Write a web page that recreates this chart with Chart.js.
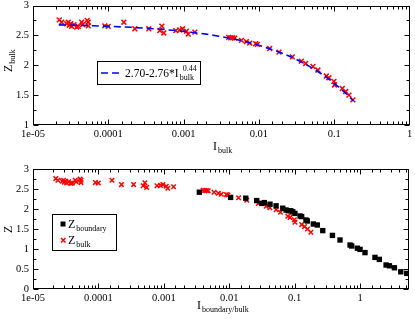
<!DOCTYPE html>
<html><head><meta charset="utf-8">
<script src="https://cdn.jsdelivr.net/npm/chart.js@4.4.0/dist/chart.umd.min.js"></script>
<style>html,body{margin:0;padding:0;background:#fff;} canvas{display:block;}</style>
</head><body>
<canvas id="c1" width="415" height="160"></canvas>
<canvas id="c2" width="415" height="160"></canvas>
<script>
// ---- data ----
const bulkI = [2.23e-5,2.40e-5,2.80e-5,2.94e-5,3.03e-5,3.16e-5,3.26e-5,3.50e-5,3.80e-5,3.99e-5,4.43e-5,4.56e-5,5.25e-5,5.41e-5,5.41e-5,9.0e-5,9.97e-5,1.61e-4,2.25e-4,3.45e-4,4.83e-4,5.14e-4,5.46e-4,7.88e-4,8.9e-4,9.67e-4,1.09e-3,1.15e-3,1.41e-3,3.98e-3,4.23e-3,4.49e-3,4.77e-3,5.86e-3,6.82e-3,7.55e-3,9.07e-3,9.55e-3,0.0139,0.0185,0.0278,0.0366,0.0418,0.0522,0.0608,0.0786,0.0851,0.0991,0.101,0.128,0.142,0.157,0.177];
const bulkZ = [2.76,2.72,2.695,2.72,2.67,2.695,2.65,2.68,2.64,2.65,2.72,2.68,2.75,2.72,2.66,2.66,2.65,2.72,2.61,2.61,2.58,2.655,2.54,2.58,2.59,2.61,2.57,2.52,2.555,2.467,2.46,2.46,2.455,2.417,2.395,2.37,2.36,2.35,2.28,2.22,2.14,2.07,2.03,1.98,1.92,1.82,1.79,1.73,1.67,1.61,1.56,1.50,1.42];
const fitI = [2.2e-5,5e-5,1e-4,2e-4,5e-4,1e-3,2e-3,4e-3,7e-3,0.01,0.02,0.03,0.04,0.05,0.07,0.085,0.1,0.115,0.13,0.15,0.165,0.18];
const fitZ = [2.675,2.665,2.652,2.635,2.603,2.568,2.521,2.457,2.389,2.336,2.206,2.110,2.030,1.961,1.844,1.767,1.698,1.635,1.575,1.502,1.451,1.402];
const boundaryI = [3.49e-3,1.05e-2,1.79e-2,2.63e-2,3.14e-2,3.44e-2,4.2e-2,5.2e-2,6.58e-2,0.0739,0.080,0.0871,0.0935,0.101,0.121,0.128,0.149,0.156,0.193,0.222,0.269,0.378,0.494,0.703,0.746,0.91,1.0,1.19,1.69,1.97,2.5,2.81,3.35,4.19,5.17];
const boundaryZ = [2.42,2.29,2.27,2.21,2.14,2.16,2.12,2.08,2.02,1.975,1.958,1.958,1.93,1.89,1.825,1.81,1.725,1.70,1.625,1.60,1.46,1.34,1.225,1.10,1.075,1.02,0.99,0.91,0.79,0.74,0.60,0.58,0.53,0.43,0.39];
const xTickLabels = ['1e-05','0.0001','0.001','0.01','0.1','1'];
const yTickLabelsTop = ['1','1.5','2','2.5','3'];
const yTickLabelsBottom = ['0','0.5','1','1.5','2','2.5','3'];
const fitLegend = ['2.70-2.76*I','bulk','0.44'];

const SERIF = "'Liberation Serif','Times New Roman',serif";
const RED = '#ff0000', BLUE = '#0000ff';

function pts(xs, ys){ return xs.map((x,i)=>({x:x, y:ys[i]})); }
function isPow10(v){ const l=Math.log10(v); return Math.abs(l-Math.round(l))<1e-9; }

function xCallback(v){
  if(!isPow10(v)) return '';
  const i = Math.round(Math.log10(v)) + 5;
  return xTickLabels[i] !== undefined ? xTickLabels[i] : '';
}
function yCallbackFactory(labels, min){
  return function(v){
    const k = (v - min) / 0.5;
    if (Math.abs(k - Math.round(k)) > 1e-9) return '';
    return labels[Math.round(k)] || '';
  };
}

// draw a text with optional subscript / superscript
function richText(ctx, x, y, main, sub, sup, size){
  ctx.font = size + 'px ' + SERIF;
  ctx.fillText(main, x, y);
  const w = ctx.measureText(main).width;
  const ss = Math.round(size*0.7);
  ctx.font = ss + 'px ' + SERIF;
  if (sub) ctx.fillText(sub, x + w + 1, y + size*0.28);
  if (sup) ctx.fillText(sup, x + w + 4, y - size*0.55);
}

function makeFramePlugin(extra){
  return {
    id: 'frame',
    beforeDatasetsDraw(chart){
      const ctx = chart.ctx, a = chart.chartArea;
      const xs = chart.scales.x, ys = chart.scales.y;
      ctx.save();
      ctx.strokeStyle = '#000'; ctx.lineWidth = 1;
      const L = Math.round(a.left)+0.5, R = Math.round(a.right)-0.5, T = Math.round(a.top)+0.5, B = Math.round(a.bottom)-0.5;
      ctx.strokeRect(L, T, R-L, B-T);
      ctx.beginPath();
      xs.ticks.forEach(t=>{
        if (t.value >= xs.max) return;
        const p = Math.round(xs.getPixelForValue(t.value)) + 0.5;
        const len = isPow10(t.value) ? 5 : 3;
        ctx.moveTo(p, B); ctx.lineTo(p, B-len);
        ctx.moveTo(p, T); ctx.lineTo(p, T+len);
      });
      ys.ticks.forEach(t=>{
        const p = Math.round(ys.getPixelForValue(t.value)) + 0.5;
        const k = t.value/0.5;
        const len = Math.abs(k-Math.round(k))<1e-9 ? 5 : 3;
        ctx.moveTo(L, p); ctx.lineTo(L+len, p);
        ctx.moveTo(R, p); ctx.lineTo(R-len, p);
      });
      ctx.stroke();
      ctx.restore();
    },
    afterDraw(chart){ extra(chart.ctx); }
  };
}

function makeScales(yMin, yMax, yLabels, xMax, xH){
  return {
    x: {
      type: 'logarithmic', min: 1e-5, max: xMax,
      grid: { display: false, drawTicks: false },
      border: { display: false },
      ticks: { autoSkip: false, maxRotation: 0, padding: 4, color: '#000',
               font: { family: SERIF, size: 10.5, lineHeight: 1 }, callback: xCallback },
      afterFit(s){ s.height = xH; s.paddingLeft = 0; s.paddingRight = 0; }
    },
    y: {
      type: 'linear', min: yMin, max: yMax,
      grid: { display: false, drawTicks: false },
      border: { display: false },
      ticks: { stepSize: 0.25, autoSkip: false, padding: 4, color: '#000',
               font: { family: SERIF, size: 10.5, lineHeight: 1 }, callback: yCallbackFactory(yLabels, yMin) },
      afterFit(s){ s.width = 33; s.paddingTop = 0; s.paddingBottom = 0; }
    }
  };
}

const baseOpts = () => ({
  responsive: false, animation: false, devicePixelRatio: 1,
  plugins: { legend: { display: false }, tooltip: { enabled: false } }
});

// ---- top chart ----
const topExtra = function(ctx){
  ctx.save();
  ctx.fillStyle = '#000';
  richText(ctx, 213, 150, 'I', 'bulk', null, 12);
  ctx.translate(12, 72); ctx.rotate(-Math.PI/2);
  richText(ctx, 0, 0, 'Z', 'bulk', null, 12);
  ctx.restore();
  ctx.save();
  ctx.strokeStyle = '#000'; ctx.lineWidth = 1;
  ctx.strokeRect(97.5, 61.5, 103, 23);
  ctx.strokeStyle = BLUE; ctx.lineWidth = 1.6; ctx.setLineDash([7,4]);
  ctx.beginPath(); ctx.moveTo(101, 73); ctx.lineTo(121, 73); ctx.stroke();
  ctx.setLineDash([]);
  ctx.fillStyle = '#000';
  richText(ctx, 125, 77, fitLegend[0], fitLegend[1], fitLegend[2], 11.5);
  ctx.restore();
};
const o1 = baseOpts();
o1.layout = { padding: { left: 0, right: 5, top: 5, bottom: 0 } };
o1.scales = makeScales(1, 3, yTickLabelsTop, 1, 35);
new Chart(document.getElementById('c1'), {
  type: 'scatter',
  data: { datasets: [
    { type: 'line', data: pts(fitI, fitZ), borderColor: BLUE, borderWidth: 1.6, borderDash: [7,4],
      pointRadius: 0, fill: false, tension: 0 },
    { data: pts(bulkI, bulkZ), pointStyle: 'crossRot', pointRadius: 3.4, borderColor: RED,
      backgroundColor: RED, pointBorderWidth: 1.5 }
  ]},
  options: o1,
  plugins: [makeFramePlugin(topExtra)]
});

// ---- bottom chart ----
const bottomExtra = function(ctx){
  ctx.save();
  ctx.fillStyle = '#000';
  richText(ctx, 197, 149, 'I', 'boundary/bulk', null, 12);
  ctx.translate(12, 73); ctx.rotate(-Math.PI/2);
  richText(ctx, 0, 0, 'Z', null, null, 12);
  ctx.restore();
  ctx.save();
  ctx.strokeStyle = '#000'; ctx.lineWidth = 1;
  ctx.strokeRect(52.5, 54.5, 64, 36);
  ctx.fillStyle = '#000';
  ctx.fillRect(60.5, 61.5, 5, 5);
  ctx.strokeStyle = RED; ctx.lineWidth = 1.5;
  ctx.beginPath();
  ctx.moveTo(61, 78); ctx.lineTo(65.5, 82.5); ctx.moveTo(65.5, 78); ctx.lineTo(61, 82.5);
  ctx.stroke();
  ctx.fillStyle = '#000';
  richText(ctx, 68, 68, 'Z', 'boundary', null, 12);
  richText(ctx, 68, 84, 'Z', 'bulk', null, 12);
  ctx.restore();
};
const o2 = baseOpts();
o2.layout = { padding: { left: 0, right: 6, top: 9, bottom: 0 } };
o2.scales = makeScales(0, 3, yTickLabelsBottom, 5.6, 31);
new Chart(document.getElementById('c2'), {
  type: 'scatter',
  data: { datasets: [
    { data: pts(boundaryI, boundaryZ), pointStyle: 'rect', pointRadius: 3.8, borderColor: '#000',
      backgroundColor: '#000', pointBorderWidth: 0 },
    { data: pts(bulkI, bulkZ), pointStyle: 'crossRot', pointRadius: 3.2, borderColor: RED,
      backgroundColor: RED, pointBorderWidth: 1.5 }
  ]},
  options: o2,
  plugins: [makeFramePlugin(bottomExtra)]
});
</script>
</body></html>
